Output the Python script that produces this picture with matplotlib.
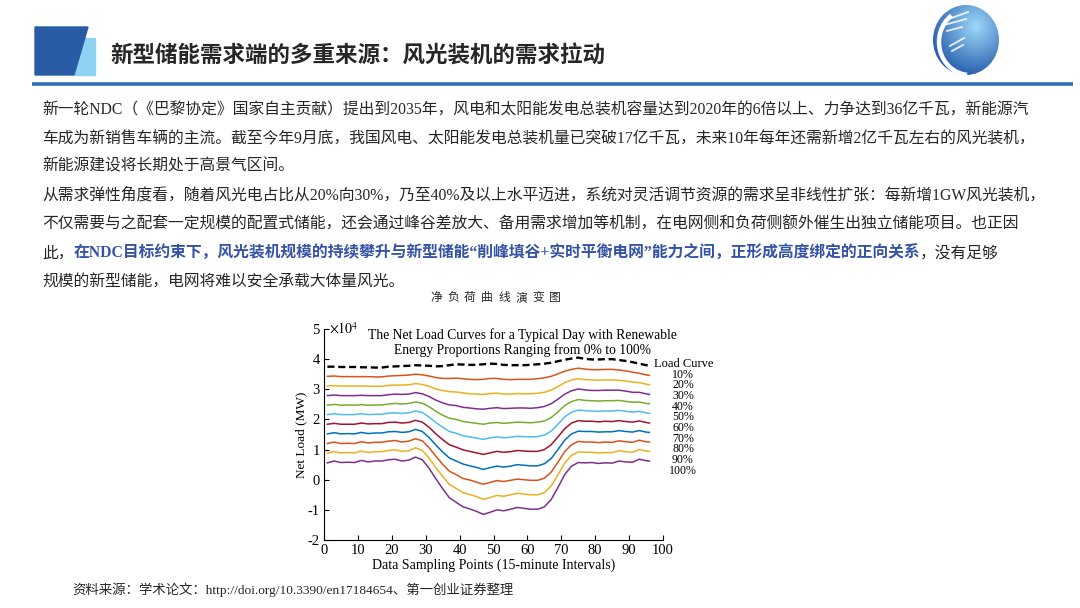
import numpy as np
import matplotlib
matplotlib.use("Agg")
import matplotlib.pyplot as plt
from matplotlib.patches import Polygon, Rectangle, Ellipse, Arc

plt.rcParams["font.family"] = ["Liberation Serif", "Noto Sans CJK SC", "DejaVu Sans"]
plt.rcParams["axes.unicode_minus"] = False
plt.rcParams["mathtext.fontset"] = "stix"

HEAD_FONT = ["Noto Sans CJK SC", "DejaVu Sans"]
TEXT_COLOR = '#262626'
BLUE_TEXT = '#3553A6'

# ---- data (net load in 10^4 MW) ----
points = [1, 3, 5, 7, 9, 11, 13, 15, 17, 19,
          21, 23, 25, 27, 29, 31, 33, 35, 37, 39,
          41, 43, 45, 47, 49, 51, 53, 55, 57, 59,
          61, 63, 65, 67, 69, 71, 73, 75, 77, 79,
          81, 83, 85, 87, 89, 91, 93, 95, 96]

load_curve = [3.75, 3.75, 3.74, 3.74, 3.74, 3.73, 3.73, 3.72, 3.72, 3.75,
              3.76, 3.77, 3.78, 3.80, 3.79, 3.78, 3.76, 3.77, 3.80, 3.83,
              3.82, 3.81, 3.81, 3.83, 3.85, 3.84, 3.81, 3.80, 3.80, 3.80,
              3.81, 3.83, 3.85, 3.88, 3.93, 3.98, 4.02, 4.05, 4.01, 3.99,
              3.99, 4.00, 4.00, 3.97, 3.94, 3.90, 3.85, 3.80, 3.78]

net_10 = [3.43, 3.44, 3.42, 3.42, 3.42, 3.42, 3.42, 3.41, 3.41, 3.44,
          3.45, 3.46, 3.47, 3.50, 3.48, 3.44, 3.39, 3.36, 3.36, 3.37,
          3.35, 3.33, 3.32, 3.33, 3.36, 3.36, 3.33, 3.32, 3.33, 3.33,
          3.33, 3.35, 3.38, 3.43, 3.51, 3.60, 3.66, 3.70, 3.67, 3.65,
          3.65, 3.66, 3.66, 3.64, 3.61, 3.57, 3.53, 3.48, 3.46]
net_20 = [3.11, 3.12, 3.11, 3.11, 3.11, 3.11, 3.10, 3.10, 3.10, 3.13,
          3.14, 3.14, 3.15, 3.19, 3.16, 3.10, 3.01, 2.96, 2.92, 2.91,
          2.88, 2.85, 2.84, 2.83, 2.86, 2.87, 2.84, 2.84, 2.86, 2.85,
          2.85, 2.87, 2.90, 2.97, 3.09, 3.22, 3.31, 3.35, 3.32, 3.31,
          3.30, 3.31, 3.31, 3.30, 3.27, 3.24, 3.22, 3.17, 3.15]
net_30 = [2.79, 2.81, 2.79, 2.79, 2.79, 2.80, 2.79, 2.79, 2.79, 2.82,
          2.84, 2.83, 2.84, 2.89, 2.85, 2.76, 2.64, 2.55, 2.48, 2.46,
          2.40, 2.38, 2.35, 2.34, 2.37, 2.39, 2.36, 2.37, 2.38, 2.38,
          2.37, 2.39, 2.43, 2.52, 2.67, 2.84, 2.95, 3.01, 2.98, 2.96,
          2.96, 2.97, 2.97, 2.97, 2.94, 2.90, 2.90, 2.85, 2.83]
net_40 = [2.47, 2.50, 2.47, 2.48, 2.47, 2.49, 2.47, 2.48, 2.48, 2.51,
          2.53, 2.51, 2.53, 2.58, 2.54, 2.42, 2.27, 2.14, 2.04, 2.00,
          1.93, 1.90, 1.87, 1.84, 1.88, 1.90, 1.87, 1.89, 1.91, 1.90,
          1.89, 1.91, 1.95, 2.06, 2.25, 2.46, 2.59, 2.66, 2.63, 2.62,
          2.61, 2.62, 2.62, 2.63, 2.60, 2.57, 2.58, 2.53, 2.52]
net_50 = [2.16, 2.19, 2.16, 2.16, 2.16, 2.19, 2.16, 2.17, 2.17, 2.21,
          2.22, 2.20, 2.22, 2.28, 2.23, 2.08, 1.90, 1.74, 1.60, 1.54,
          1.46, 1.42, 1.38, 1.34, 1.39, 1.42, 1.39, 1.41, 1.44, 1.43,
          1.42, 1.43, 1.48, 1.61, 1.84, 2.08, 2.24, 2.31, 2.29, 2.28,
          2.27, 2.28, 2.28, 2.30, 2.27, 2.24, 2.27, 2.22, 2.20]
net_60 = [1.84, 1.87, 1.84, 1.84, 1.84, 1.88, 1.85, 1.86, 1.86, 1.90,
          1.91, 1.88, 1.90, 1.97, 1.91, 1.74, 1.52, 1.33, 1.16, 1.08,
          0.99, 0.94, 0.89, 0.84, 0.89, 0.94, 0.91, 0.93, 0.97, 0.95,
          0.94, 0.94, 1.00, 1.16, 1.42, 1.69, 1.88, 1.96, 1.94, 1.94,
          1.92, 1.94, 1.93, 1.96, 1.93, 1.91, 1.95, 1.90, 1.88]
net_70 = [1.52, 1.56, 1.52, 1.53, 1.52, 1.57, 1.53, 1.55, 1.55, 1.59,
          1.60, 1.57, 1.59, 1.67, 1.60, 1.40, 1.15, 0.92, 0.72, 0.62,
          0.52, 0.46, 0.41, 0.34, 0.40, 0.45, 0.42, 0.45, 0.50, 0.48,
          0.46, 0.46, 0.53, 0.70, 1.00, 1.31, 1.52, 1.61, 1.60, 1.60,
          1.58, 1.59, 1.59, 1.63, 1.60, 1.58, 1.63, 1.58, 1.57]
net_80 = [1.20, 1.25, 1.20, 1.21, 1.20, 1.26, 1.22, 1.24, 1.24, 1.28,
          1.30, 1.25, 1.28, 1.36, 1.29, 1.06, 0.78, 0.51, 0.28, 0.17,
          0.04, -0.01, -0.08, -0.15, -0.09, -0.03, -0.06, -0.02, 0.02, 0.00,
          -0.02, -0.02, 0.05, 0.25, 0.58, 0.93, 1.16, 1.27, 1.25, 1.25,
          1.23, 1.25, 1.24, 1.29, 1.26, 1.24, 1.31, 1.26, 1.25]
net_90 = [0.88, 0.93, 0.89, 0.90, 0.89, 0.95, 0.90, 0.93, 0.93, 0.97,
          0.99, 0.94, 0.96, 1.06, 0.97, 0.72, 0.40, 0.11, -0.16, -0.29,
          -0.43, -0.49, -0.56, -0.65, -0.59, -0.52, -0.55, -0.50, -0.45, -0.48,
          -0.50, -0.50, -0.43, -0.21, 0.16, 0.55, 0.81, 0.92, 0.91, 0.91,
          0.89, 0.90, 0.90, 0.96, 0.93, 0.91, 1.00, 0.95, 0.94]
net_100 = [0.56, 0.62, 0.57, 0.58, 0.57, 0.64, 0.59, 0.62, 0.62, 0.66,
           0.68, 0.62, 0.65, 0.75, 0.66, 0.38, 0.03, -0.30, -0.60, -0.75,
           -0.90, -0.97, -1.05, -1.15, -1.08, -1.00, -1.03, -0.98, -0.92, -0.95,
           -0.98, -0.98, -0.90, -0.66, -0.26, 0.17, 0.45, 0.57, 0.56, 0.57,
           0.54, 0.56, 0.55, 0.62, 0.59, 0.58, 0.68, 0.63, 0.62]

net_curves = [net_10, net_20, net_30, net_40, net_50,
              net_60, net_70, net_80, net_90, net_100]
share_labels = ['10%', '20%', '30%', '40%', '50%',
                '60%', '70%', '80%', '90%', '100%']
curve_colors = ['#D95319', '#EDB120', '#7E2F8E', '#77AC30', '#4DBEEE',
                '#A2142F', '#0072BD', '#D95319', '#EDB120', '#7E2F8E']

# ---- slide text ----
title = '新型储能需求端的多重来源：风光装机的需求拉动'
body_lines = [
    '新一轮NDC（《巴黎协定》国家自主贡献）提出到2035年，风电和太阳能发电总装机容量达到2020年的6倍以上、力争达到36亿千瓦，新能源汽',
    '车成为新销售车辆的主流。截至今年9月底，我国风电、太阳能发电总装机量已突破17亿千瓦，未来10年每年还需新增2亿千瓦左右的风光装机，',
    '新能源建设将长期处于高景气区间。',
    '从需求弹性角度看，随着风光电占比从20%向30%，乃至40%及以上水平迈进，系统对灵活调节资源的需求呈非线性扩张：每新增1GW风光装机，',
    '不仅需要与之配套一定规模的配置式储能，还会通过峰谷差放大、备用需求增加等机制，在电网侧和负荷侧额外催生出独立储能项目。也正因',
    None,
    '规模的新型储能，电网将难以安全承载大体量风光。',
]
line6 = [('此，', False),
         ('在NDC目标约束下，风光装机规模的持续攀升与新型储能“削峰填谷+实时平衡电网”能力之间，正形成高度绑定的正向关系', True),
         ('，没有足够', False)]
caption = '净负荷曲线演变图'
source = '资料来源：学术论文：http://doi.org/10.3390/en17184654、第一创业证券整理'

W, H = 1080, 608
fig = plt.figure(figsize=(W / 100, H / 100), dpi=100)
fig.patch.set_facecolor('white')

bg = fig.add_axes([0, 0, 1, 1])
bg.axis('off')

# header block + rule
bg.add_patch(Rectangle((75, 38), 20, 37, color='#8FD3F4', zorder=1))
bg.add_patch(Polygon([(35, 27), (88, 27), (74, 75), (35, 75)], closed=True,
                     color='#2A5CA6', zorder=2))
bg.plot([32, 1073], [84, 84], color='#2F6FBA', lw=2.6, solid_capstyle='butt')
bg.text(110, 55, title, fontsize=16.2, fontweight='bold', color=TEXT_COLOR,
        va='center', ha='left', family=HEAD_FONT)

# logo: shaded globe with white swoosh
gy, gx = np.mgrid[0:1:160j, 0:1:160j]
d = np.clip(np.hypot(gx - 0.65, gy - 0.3) / 0.85, 0, 1)
light = np.array([0.62, 0.85, 0.98])
dark = np.array([0.07, 0.28, 0.62])
shade = light[None, None, :] * (1 - d[..., None]) + dark[None, None, :] * d[..., None]
globe = Ellipse((966, 40), 66, 70, transform=bg.transData, facecolor='none', edgecolor='none')
bg.add_patch(globe)
im = bg.imshow(shade, extent=(933, 999, 75, 5), origin='upper', aspect='auto', zorder=2)
im.set_clip_path(globe)
bg.add_patch(Arc((970, 42), 62, 66, theta1=95, theta2=235, color='white', lw=3.2, zorder=3))
for x0, y0, x1, y1 in [(946, 20, 968, 12), (944, 25, 966, 19), (947, 31, 962, 27),
                       (950, 46, 964, 38), (952, 51, 963, 45)]:
    bg.plot([x0, x1], [y0, y1], color='white', lw=1.3, alpha=0.85, zorder=3)

bg.set_xlim(0, W)
bg.set_ylim(H, 0)

fig.canvas.draw()
renderer = fig.canvas.get_renderer()


def text_width(t):
    return t.get_window_extent(renderer=renderer).width


# body paragraph, size fitted to the first full line
line_y = [110, 139, 167, 196, 225, 254, 283]
t0 = bg.text(42, line_y[0], body_lines[0], fontsize=11, color=TEXT_COLOR, va='center')
body_size = 11 * 988 / text_width(t0)
t0.set_fontsize(body_size)
for i, line in enumerate(body_lines[1:], start=1):
    if line is None:
        x = 42
        for seg, strong in line6:
            t = bg.text(x, line_y[i], seg, fontsize=body_size, va='center',
                        color=BLUE_TEXT if strong else TEXT_COLOR,
                        fontweight='bold' if strong else 'normal')
            x += text_width(t)
    else:
        bg.text(42, line_y[i], line, fontsize=body_size, color=TEXT_COLOR, va='center')

# caption, letter spaced
for i, ch in enumerate(caption):
    bg.text(436 + i * 17, 298, ch, fontsize=8.5, color=TEXT_COLOR, ha='center', va='center')

# source line
ts = bg.text(72, 590, source, fontsize=9, color=TEXT_COLOR, va='center')
ts.set_fontsize(9 * 444 / text_width(ts))

# ---- chart ----
ax = fig.add_axes([324 / W, 1 - 540 / H, (663 - 324) / W, (540 - 329) / H])
ax.set_facecolor('none')
ax.plot(points, load_curve, color='black', lw=1.7, ls=(0, (3, 1.6)))
for vals, col in zip(net_curves, curve_colors):
    ax.plot(points, vals, color=col, lw=1.1)

ax.set_xlim(0, 100)
ax.set_ylim(-2, 5)
ax.set_xticks(range(0, 101, 10))
ax.set_yticks(range(-2, 6))
ax.tick_params(direction='in', length=3.5, width=0.8, labelsize=10.5, pad=3)
for side in ['top', 'right']:
    ax.spines[side].set_visible(False)
for side in ['left', 'bottom']:
    ax.spines[side].set_linewidth(0.8)
ax.set_xlabel('Data Sampling Points (15-minute Intervals)', fontsize=10, labelpad=1)
ax.set_ylabel('Net Load (MW)', fontsize=9.5, labelpad=0)
ax.text(0.015, 1.0, r'$\times10^4$', transform=ax.transAxes, fontsize=10, va='center', ha='left')

bg.text(522, 335, 'The Net Load Curves for a Typical Day with Renewable',
        fontsize=9.8, ha='center', va='center')
bg.text(522, 350, 'Energy Proportions Ranging from 0% to 100%',
        fontsize=9.8, ha='center', va='center')

bg.text(654, 364, 'Load Curve', fontsize=9, ha='left', va='center')
label_y = [374.5, 385.2, 395.9, 406.6, 417.3, 428.0, 438.7, 449.4, 460.1, 470.8]
for lab, y in zip(share_labels, label_y):
    bg.text(683, y, lab, fontsize=8.6, ha='center', va='center')

fig.savefig('out.png', dpi=100, facecolor='white')
